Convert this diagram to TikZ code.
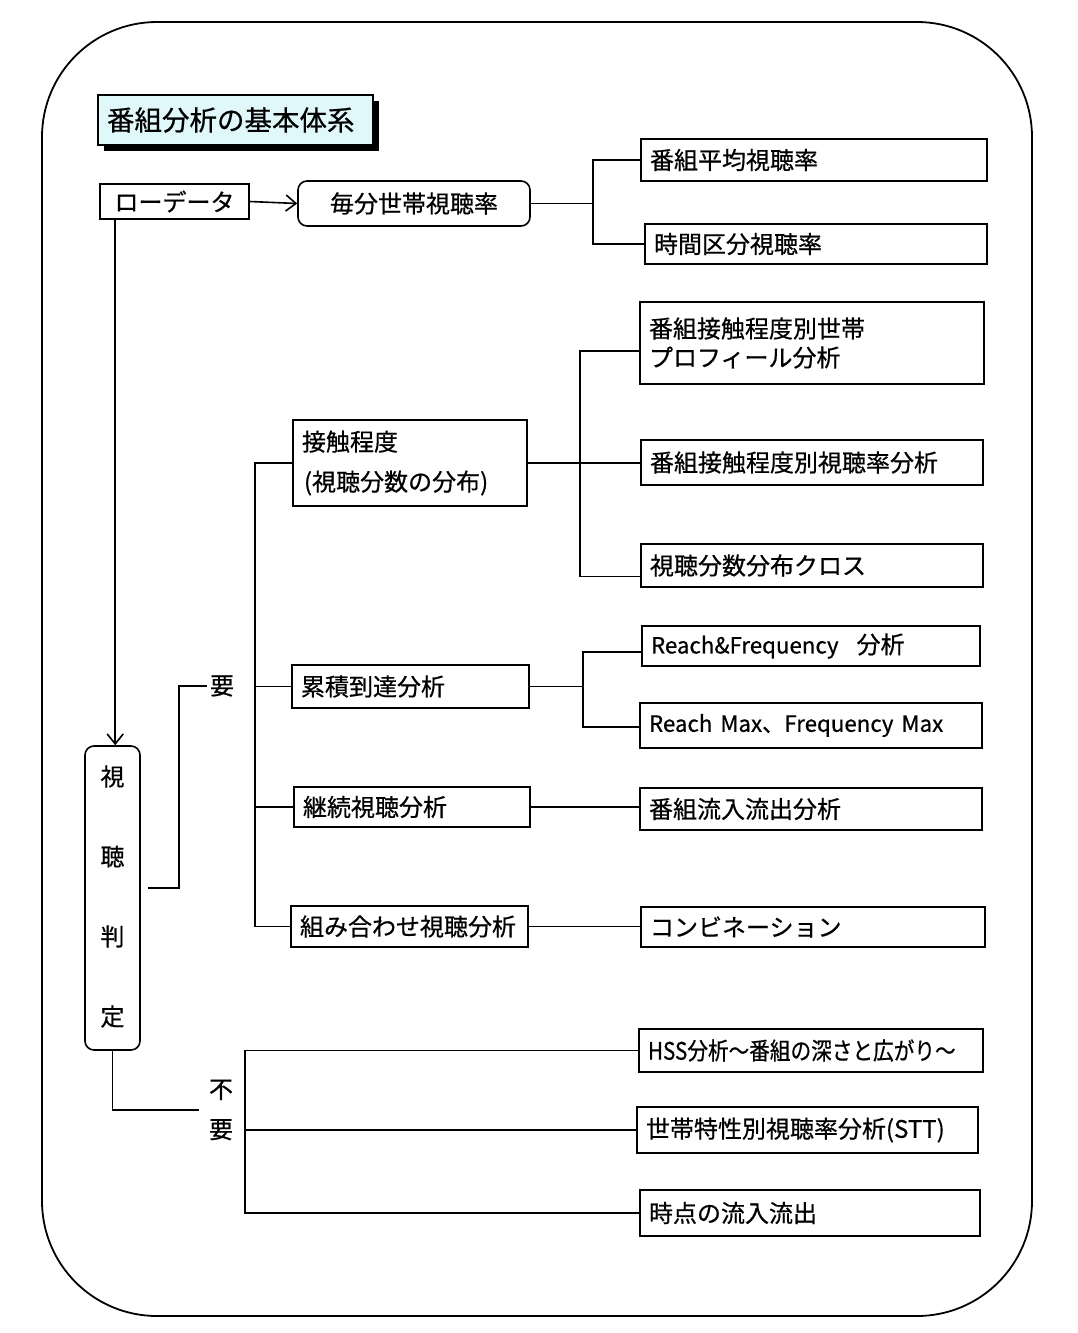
\documentclass[tikz,border=0pt]{standalone}
\usepackage{fontspec}
\setmainfont{Noto Sans CJK JP}[FakeBold=0.6]
\usetikzlibrary{arrows.meta,shadows,calc}
\definecolor{titlefill}{RGB}{224,248,250}
\newcommand\latsz{\fontsize{22.3pt}{29pt}\selectfont}
\begin{document}
\begin{tikzpicture}[x=1pt,y=-1pt,
  line width=1.6pt,
  every node/.style={font=\fontsize{24pt}{29pt}\selectfont},
  bx/.style={draw, line width=1.6pt, inner xsep=9pt, inner ysep=0pt, align=left},
  rbx/.style={bx, rounded corners=9pt},
  arr/.style={-{Straight Barb[length=10pt,width=16pt]}},
  lbl/.style={inner sep=2pt, align=center}
]
\useasboundingbox (0,0) rectangle (1077,1333);
% outer frame
\draw[line width=1.8pt, rounded corners=115pt] (42,22) rectangle (1032,1316);

% title
\node[bx, fill=titlefill, drop shadow={shadow xshift=6pt,shadow yshift=-6pt,fill=black,opacity=1},
      text width=257pt, minimum height=50pt, font=\fontsize{27.5pt}{32pt}\selectfont] (title) at (235.5,120) {番組分析の基本体系};

% top row
\node[bx, align=center, text width=131pt, minimum height=35pt] (raw) at (174.5,201.5) {ローデータ};
\node[rbx, align=center, text width=214pt, minimum height=45pt] (mbun) at (414,203.5) {毎分世帯視聴率};
\node[bx, text width=328pt, minimum height=42pt] (heikin) at (814,160) {番組平均視聴率};
\node[bx, text width=324pt, minimum height=40pt] (jikan) at (816,244) {時間区分視聴率};

% middle groups
\node[bx, text width=216pt, minimum height=86pt, font=\fontsize{24pt}{40pt}\selectfont] (sesshoku) at (410,463) {接触程度\\\hspace{2pt}(視聴分数の分布)};
\node[bx, text width=326pt, minimum height=82pt] (profile) at (812,343) {番組接触程度別世帯\\プロフィール分析};
\node[bx, text width=324pt, minimum height=45pt] (betsu) at (812,462.5) {番組接触程度別視聴率分析};
\node[bx, text width=324pt, minimum height=43pt] (cross) at (812,565.5) {視聴分数分布クロス};

\node[bx, text width=219pt, minimum height=43pt] (ruiseki) at (410.5,686.5) {累積到達分析};
\node[bx, text width=320pt, minimum height=40pt] (rf) at (811,646) {{\latsz Reach\&Frequency}\hspace{18pt}分析};
\node[bx, text width=324pt, minimum height=45pt] (rmax) at (811,725.5) {\latsz Reach Max、Frequency Max};

\node[bx, text width=218pt, minimum height=40pt] (keizoku) at (412,807) {継続視聴分析};
\node[bx, text width=324pt, minimum height=42pt] (ryunyu) at (811,809) {番組流入流出分析};

\node[bx, text width=219pt, minimum height=41pt] (kumi) at (409.5,926.5) {組み合わせ視聴分析};
\node[bx, text width=326pt, minimum height=40pt] (combi) at (813,927) {コンビネーション};

% judgement box
\node[rbx, align=center, inner xsep=0pt, minimum width=55pt, minimum height=304pt,
      font=\fontsize{24pt}{80pt}\selectfont] (hantei) at (112.5,898) {\raisebox{5pt}{視}\\\raisebox{5pt}{聴}\\\raisebox{5pt}{判}\\\raisebox{5pt}{定}};

% bottom group
\node[bx, text width=326pt, minimum height=43pt] (hss) at (811,1050.5) {\scalebox{0.86}[1]{HSS分析～番組の深さと広がり～}};
\node[bx, text width=323pt, minimum height=46pt] (stt) at (807.5,1130) {世帯特性別視聴率分析(STT)};
\node[bx, text width=322pt, minimum height=46pt] (jiten) at (810,1213) {時点の流入流出};

% labels
\node[lbl] (yolab) at (222,686) {要};
\node[lbl, inner xsep=9pt, font=\fontsize{24pt}{40pt}\selectfont] (fuyo) at (221,1110) {不\\要};

% coordinates for vertical bus lines
\coordinate (tv) at (593,0);
\coordinate (yv) at (255,0);
\coordinate (sv) at (580,0);
\coordinate (rv) at (583,0);
\coordinate (fv) at (245,0);

% top connectors
\draw[arr] (raw.east) -- (mbun.west);
\draw (mbun.east) -- (mbun.east -| tv);
\draw (heikin.west) -- (heikin.west -| tv) -- (jikan.west -| tv) -- (jikan.west);
\draw[arr] ([xshift=16pt]raw.south west) -- ([xshift=16pt]raw.south west |- hantei.north);

% judgement -> 要
\draw ([shift={(7,-10)}]hantei.east) -- ++(31,0) |- (yolab.west);
\draw (sesshoku.west) -- (sesshoku.west -| yv) -- (kumi.west -| yv) -- (kumi.west);
\draw (ruiseki.west -| yv) -- (ruiseki.west);
\draw (keizoku.west -| yv) -- (keizoku.west);

% 接触程度 group
\draw (sesshoku.east) -- (sesshoku.east -| betsu.west);
\draw ([yshift=-8pt]profile.west) -- ([yshift=-8pt]profile.west -| sv) -- ([yshift=-11pt]cross.west -| sv) -- ([yshift=-11pt]cross.west);

% 累積到達 group
\draw (ruiseki.east) -- (ruiseki.east -| rv);
\draw ([yshift=-6pt]rf.west) -- ([yshift=-6pt]rf.west -| rv) -- ([yshift=-1.5pt]rmax.west -| rv) -- ([yshift=-1.5pt]rmax.west);

% single links
\draw (keizoku.east) -- (keizoku.east -| ryunyu.west);
\draw (kumi.east) -- (kumi.east -| combi.west);

% judgement -> 不要
\draw (hantei.south) |- (fuyo.west);
\draw (hss.west) -- (hss.west -| fv) -- (jiten.west -| fv) -- (jiten.west);
\draw (stt.west -| fv) -- (stt.west);
\end{tikzpicture}
\end{document}
